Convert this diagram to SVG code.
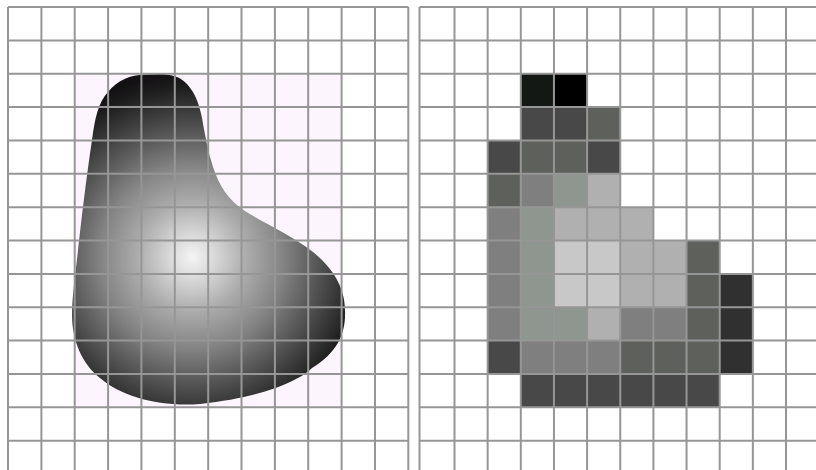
<svg xmlns="http://www.w3.org/2000/svg" width="816" height="470" viewBox="0 0 816 470">
  <defs>
    <radialGradient id="shade" gradientUnits="userSpaceOnUse" cx="192" cy="257" r="184">
      <stop offset="0" stop-color="#f4f4f4"/>
      <stop offset="0.1" stop-color="#dedede"/>
      <stop offset="0.3" stop-color="#ababab"/>
      <stop offset="0.5" stop-color="#838383"/>
      <stop offset="0.65" stop-color="#5e5e5e"/>
      <stop offset="0.8" stop-color="#3a3a3a"/>
      <stop offset="0.92" stop-color="#1f1e1f"/>
      <stop offset="1" stop-color="#131113"/>
    </radialGradient>
    <style>
      .g { stroke: #969696; stroke-width: 2; fill: none; }
      .k0 { fill: #141814; }
      .k1 { fill: #000000; }
      .k2 { fill: #484848; }
      .k3 { fill: #5e605c; }
      .k4 { fill: #7f7f7f; }
      .k5 { fill: #8f958f; }
      .k6 { fill: #b0b0b0; }
      .k7 { fill: #c8c8c8; }
      .k8 { fill: #303030; }
    </style>
  </defs>
  <rect width="816" height="470" fill="#ffffff"/>

  <g id="left-panel">
    <rect x="75" y="74" width="267" height="333" fill="#fdf5fd"/>
    <path id="blob" fill="url(#shade)" d="M 145 74.5 C 165 73, 178 74, 187 84 C 195 93, 199 103, 202 118 C 205 135, 208 152, 213 167 C 219 185, 228 200, 245 211 C 262 222, 290 234, 313 252 C 333 268, 345 288, 345 310 C 346 333, 338 352, 312 368 C 300 380, 265 397, 200 404 C 160 407, 122 397, 100 378 C 82 364, 72 340, 72 315 C 72 295, 76 270, 78 250 C 82 215, 86 180, 92 140 C 95 118, 98 103, 108 92 C 118 80, 130 75, 145 74.5 Z"/>
    <g id="left-grid" class="g">
      <path d="M8 7V470M41.4 7V470M74.7 7V470M108.1 7V470M141.4 7V470M174.8 7V470M208.2 7V470M241.5 7V470M274.9 7V470M308.2 7V470M341.6 7V470M375 7V470M408.3 7V470"/>
      <path d="M8 7H408.3M8 40.4H408.3M8 73.7H408.3M8 107.1H408.3M8 140.4H408.3M8 173.8H408.3M8 207.2H408.3M8 240.5H408.3M8 273.9H408.3M8 307.2H408.3M8 340.6H408.3M8 374H408.3M8 407.3H408.3M8 440.7H408.3"/>
    </g>
  </g>

  <g id="right-panel">
    <g id="pixels">
      <rect class="k0" x="520.8" y="73.7" width="33.15" height="33.4"/>
      <rect class="k1" x="553.95" y="73.7" width="33.15" height="33.4"/>

      <rect class="k2" x="520.8" y="107.1" width="33.15" height="33.3"/>
      <rect class="k2" x="553.95" y="107.1" width="33.15" height="33.3"/>
      <rect class="k3" x="587.1" y="107.1" width="33.15" height="33.3"/>

      <rect class="k2" x="487.65" y="140.4" width="33.15" height="33.4"/>
      <rect class="k3" x="520.8" y="140.4" width="33.15" height="33.4"/>
      <rect class="k3" x="553.95" y="140.4" width="33.15" height="33.4"/>
      <rect class="k2" x="587.1" y="140.4" width="33.15" height="33.4"/>

      <rect class="k3" x="487.65" y="173.8" width="33.15" height="33.4"/>
      <rect class="k4" x="520.8" y="173.8" width="33.15" height="33.4"/>
      <rect class="k5" x="553.95" y="173.8" width="33.15" height="33.4"/>
      <rect class="k6" x="587.1" y="173.8" width="33.15" height="33.4"/>

      <rect class="k4" x="487.65" y="207.2" width="33.15" height="33.3"/>
      <rect class="k5" x="520.8" y="207.2" width="33.15" height="33.3"/>
      <rect class="k6" x="553.95" y="207.2" width="33.15" height="33.3"/>
      <rect class="k6" x="587.1" y="207.2" width="33.15" height="33.3"/>
      <rect class="k6" x="620.25" y="207.2" width="33.15" height="33.3"/>

      <rect class="k4" x="487.65" y="240.5" width="33.15" height="33.4"/>
      <rect class="k5" x="520.8" y="240.5" width="33.15" height="33.4"/>
      <rect class="k7" x="553.95" y="240.5" width="33.15" height="33.4"/>
      <rect class="k7" x="587.1" y="240.5" width="33.15" height="33.4"/>
      <rect class="k6" x="620.25" y="240.5" width="33.15" height="33.4"/>
      <rect class="k6" x="653.4" y="240.5" width="33.15" height="33.4"/>
      <rect class="k3" x="686.55" y="240.5" width="33.15" height="33.4"/>

      <rect class="k4" x="487.65" y="273.9" width="33.15" height="33.3"/>
      <rect class="k5" x="520.8" y="273.9" width="33.15" height="33.3"/>
      <rect class="k7" x="553.95" y="273.9" width="33.15" height="33.3"/>
      <rect class="k7" x="587.1" y="273.9" width="33.15" height="33.3"/>
      <rect class="k6" x="620.25" y="273.9" width="33.15" height="33.3"/>
      <rect class="k6" x="653.4" y="273.9" width="33.15" height="33.3"/>
      <rect class="k3" x="686.55" y="273.9" width="33.15" height="33.3"/>
      <rect class="k8" x="719.7" y="273.9" width="33.15" height="33.3"/>

      <rect class="k4" x="487.65" y="307.2" width="33.15" height="33.4"/>
      <rect class="k5" x="520.8" y="307.2" width="33.15" height="33.4"/>
      <rect class="k5" x="553.95" y="307.2" width="33.15" height="33.4"/>
      <rect class="k6" x="587.1" y="307.2" width="33.15" height="33.4"/>
      <rect class="k4" x="620.25" y="307.2" width="33.15" height="33.4"/>
      <rect class="k4" x="653.4" y="307.2" width="33.15" height="33.4"/>
      <rect class="k3" x="686.55" y="307.2" width="33.15" height="33.4"/>
      <rect class="k8" x="719.7" y="307.2" width="33.15" height="33.4"/>

      <rect class="k2" x="487.65" y="340.6" width="33.15" height="33.4"/>
      <rect class="k4" x="520.8" y="340.6" width="33.15" height="33.4"/>
      <rect class="k4" x="553.95" y="340.6" width="33.15" height="33.4"/>
      <rect class="k4" x="587.1" y="340.6" width="33.15" height="33.4"/>
      <rect class="k3" x="620.25" y="340.6" width="33.15" height="33.4"/>
      <rect class="k3" x="653.4" y="340.6" width="33.15" height="33.4"/>
      <rect class="k3" x="686.55" y="340.6" width="33.15" height="33.4"/>
      <rect class="k8" x="719.7" y="340.6" width="33.15" height="33.4"/>

      <rect class="k2" x="520.8" y="374" width="33.15" height="33.3"/>
      <rect class="k2" x="553.95" y="374" width="33.15" height="33.3"/>
      <rect class="k2" x="587.1" y="374" width="33.15" height="33.3"/>
      <rect class="k2" x="620.25" y="374" width="33.15" height="33.3"/>
      <rect class="k2" x="653.4" y="374" width="33.15" height="33.3"/>
      <rect class="k2" x="686.55" y="374" width="33.15" height="33.3"/>
    </g>
    <g id="right-grid" class="g">
      <path d="M419.5 7V470M454.5 7V470M487.65 7V470M520.8 7V470M553.95 7V470M587.1 7V470M620.25 7V470M653.4 7V470M686.55 7V470M719.7 7V470M752.85 7V470M786 7V470"/>
      <path d="M419.5 7H816M419.5 40.4H816M419.5 73.7H816M419.5 107.1H816M419.5 140.4H816M419.5 173.8H816M419.5 207.2H816M419.5 240.5H816M419.5 273.9H816M419.5 307.2H816M419.5 340.6H816M419.5 374H816M419.5 407.3H816M419.5 440.7H816"/>
    </g>
  </g>
</svg>
